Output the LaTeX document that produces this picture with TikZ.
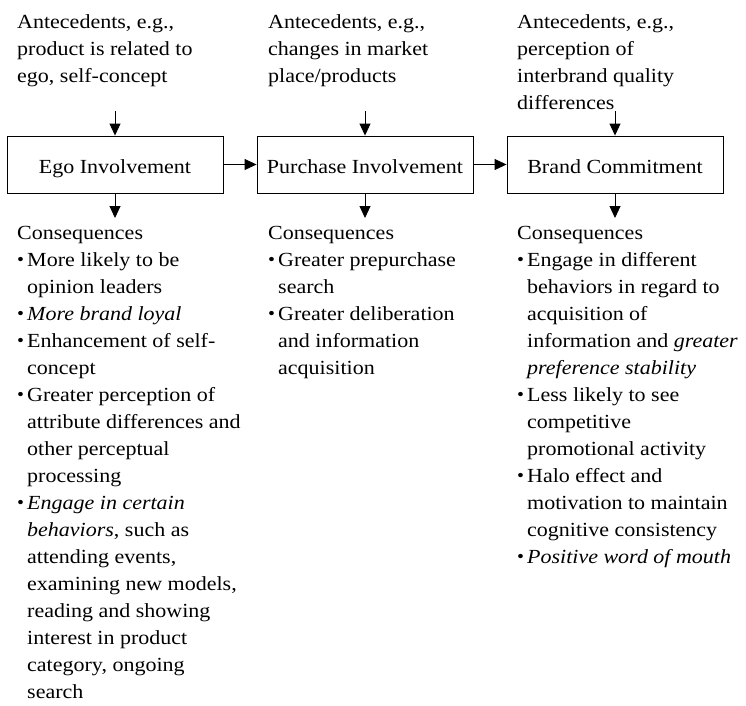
\documentclass[tikz,border=0pt]{standalone}
\usepackage{fontspec}
\setmainfont{Liberation Serif}[FakeStretch=1.1]
\usetikzlibrary{arrows.meta}
\newcommand\bul{\makebox[10pt][l]{\raisebox{0.5pt}{\fontsize{18}{18}\selectfont\textbullet}}}
\newcommand\indt{\hspace*{10pt}}
\newcommand\col[1]{\parbox[t]{240pt}{\raggedright #1}}
\tikzset{
  box/.style={draw, line width=0.9pt, minimum width=216pt, minimum height=57pt, inner sep=0pt, text height=17pt, text depth=0pt},
  txt/.style={anchor=base west, inner sep=0pt},
  arr/.style={-{Triangle[length=12pt,width=11pt]}, line width=0.9pt}
}
\begin{document}
\begin{tikzpicture}[x=1pt,y=-1pt,font=\fontsize{20}{27}\selectfont]
        \useasboundingbox (0,0) rectangle (746,705);
        \node[box] (E) at (115,164.5) {Ego Involvement};
        \node[box] (P) at (365,164.5) {Purchase Involvement};
        \node[box] (B) at (615,164.5) {Brand Commitment};
        \node[txt] (EA) at (17,28) {\col{Antecedents, e.g.,\\ product is related to\\ ego, self-concept}};
        \node[txt] (PA) at (268,28) {\col{Antecedents, e.g.,\\ changes in market\\ place/products}};
        \node[txt] (BA) at (517,28) {\col{Antecedents, e.g.,\\ perception of\\ interbrand quality\\ differences}};
        \node[txt] (EC) at (17,239) {\col{Consequences\\
            \bul More likely to be\\ \indt opinion leaders\\
            \bul\textit{More brand loyal}\\
            \bul Enhancement of self-\\ \indt concept\\
            \bul Greater perception of\\ \indt attribute differences and\\ \indt other perceptual\\ \indt processing\\
            \bul\textit{Engage in certain}\\ \indt\textit{behaviors}, such as\\ \indt attending events,\\ \indt examining new models,\\ \indt reading and showing\\ \indt interest in product\\ \indt category, ongoing\\ \indt search}};
        \node[txt] (PC) at (268,239) {\col{Consequences\\
            \bul Greater prepurchase\\ \indt search\\
            \bul Greater deliberation\\ \indt and information\\ \indt acquisition}};
        \node[txt] (BC) at (517,239) {\col{Consequences\\
            \bul Engage in different\\ \indt behaviors in regard to\\ \indt acquisition of\\ \indt information and \textit{greater}\\ \indt\textit{preference stability}\\
            \bul Less likely to see\\ \indt competitive\\ \indt promotional activity\\
            \bul Halo effect and\\ \indt motivation to maintain\\ \indt cognitive consistency\\
            \bul\textit{Positive word of mouth}}};
        \coordinate (e1) at (115,111);
        \coordinate (p1) at (365,111);
        \coordinate (b1) at (615,111);
        \coordinate (e2) at (115,218);
        \coordinate (p2) at (365,218);
        \coordinate (b2) at (615,218);
        \draw[arr] (e1) -- (E);
        \draw[arr] (p1) -- (P);
        \draw[arr] (b1) -- (B);
        \draw[arr] (E) -- (e2);
        \draw[arr] (P) -- (p2);
        \draw[arr] (B) -- (b2);
        \draw[arr] (E) -- (P);
        \draw[arr] (P) -- (B);
    \end{tikzpicture}
\end{document}
